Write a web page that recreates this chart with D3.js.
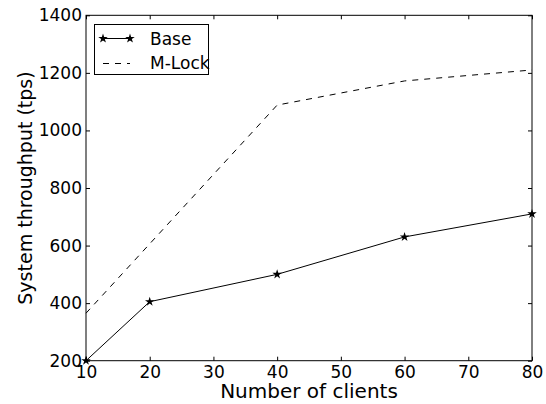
<!DOCTYPE html>
<html><head><meta charset="utf-8">
<script src="https://cdn.jsdelivr.net/npm/d3@7"></script>
<style>body{margin:0;background:#fff;} svg{display:block;} text{font-family:"DejaVu Sans",sans-serif;fill:#000;}</style>
</head><body>
<svg id="c" width="546" height="404"></svg>
<script>
const clients = [10, 20, 40, 60, 80];
const baseValues = [200, 405, 500, 630, 710];
const mlockClients = [10, 40, 60, 80];
const mlockValues = [365, 1088, 1172, 1210];
const xTicks = [10, 20, 30, 40, 50, 60, 70, 80];
const yTicks = [200, 400, 600, 800, 1000, 1200, 1400];
const seriesNames = ["Base", "M-Lock"];

const svg = d3.select("#c");
const L = 86, R = 532, T = 15.3, B = 360.7;
const x = d3.scaleLinear().domain([10, 80]).range([L, R]);
const y = d3.scaleLinear().domain([200, 1400]).range([B, T]);

const tickFont = 17;
const fmt = d3.format("d");
const gx = svg.append("g").attr("transform", `translate(0,${B})`)
  .call(d3.axisBottom(x).tickValues(xTicks).tickFormat(fmt).tickSizeInner(-4).tickSizeOuter(0).tickPadding(8));
const gxt = svg.append("g").attr("transform", `translate(0,${T})`)
  .call(d3.axisTop(x).tickValues(xTicks).tickSizeInner(-4).tickSizeOuter(0).tickFormat(""));
const gy = svg.append("g").attr("transform", `translate(${L},0)`)
  .call(d3.axisLeft(y).tickValues(yTicks).tickFormat(fmt).tickSizeInner(-4).tickSizeOuter(0).tickPadding(8));
const gyr = svg.append("g").attr("transform", `translate(${R},0)`)
  .call(d3.axisRight(y).tickValues(yTicks).tickSizeInner(-4).tickSizeOuter(0).tickFormat(""));
[gx, gxt, gy, gyr].forEach(g => {
  g.select(".domain").remove();
  g.selectAll("line").attr("stroke", "#000");
  g.selectAll("text").attr("font-size", tickFont).attr("font-family", "DejaVu Sans");
});
gx.selectAll("text").attr("dy", "0.75em").attr("y", 5);
gy.selectAll("text").attr("x", -4);

svg.append("rect").attr("x", L).attr("y", T).attr("width", R - L).attr("height", B - T)
  .attr("fill", "none").attr("stroke", "#000").attr("stroke-width", 1);

const line = d3.line().x(d => x(d[0])).y(d => y(d[1]));
const baseData = clients.map((c, i) => [c, baseValues[i]]);
const mlockData = mlockClients.map((c, i) => [c, mlockValues[i]]);

svg.append("path").datum(mlockData).attr("d", line).attr("fill", "none")
  .attr("stroke", "#000").attr("stroke-width", 1).attr("stroke-dasharray", "6,6");
svg.append("path").datum(baseData).attr("d", line).attr("fill", "none")
  .attr("stroke", "#000").attr("stroke-width", 1);
const star = d3.symbol().type(d3.symbolStar).size(28);
svg.selectAll(".st").data(baseData).join("path").attr("class", "st")
  .attr("transform", d => `translate(${x(d[0])},${y(d[1])})`).attr("d", star).attr("fill", "#000");

svg.append("text").attr("x", (L + R) / 2).attr("y", 398).attr("text-anchor", "middle")
  .attr("font-size", 20).text("Number of clients");
svg.append("text").attr("transform", `translate(32,${(T + B) / 2}) rotate(-90)`).attr("text-anchor", "middle")
  .attr("font-size", 19).text("System throughput (tps)");

const lg = svg.append("g");
lg.append("rect").attr("x", 94.5).attr("y", 24.5).attr("width", 114).attr("height", 50)
  .attr("fill", "#fff").attr("stroke", "#000").attr("stroke-width", 1);
lg.append("line").attr("x1", 103).attr("x2", 130).attr("y1", 38.5).attr("y2", 38.5).attr("stroke", "#000");
[103, 130].forEach(px => lg.append("path").attr("transform", `translate(${px},38.5)`).attr("d", star).attr("fill", "#000"));
lg.append("line").attr("x1", 103).attr("x2", 130).attr("y1", 63.5).attr("y2", 63.5).attr("stroke", "#000").attr("stroke-dasharray", "6,6");
lg.append("text").attr("x", 150).attr("y", 45).attr("font-size", 17).text(seriesNames[0]);
lg.append("text").attr("x", 150).attr("y", 69).attr("font-size", 17).text(seriesNames[1]);
</script>
</body></html>
